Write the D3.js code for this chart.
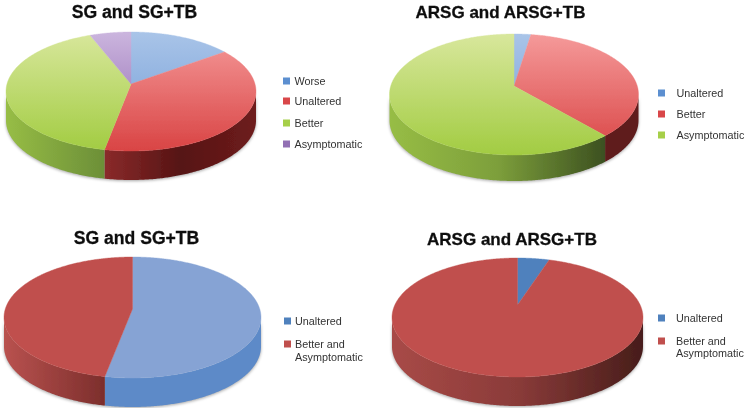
<html>
<head>
<meta charset="utf-8">

<!-- Load d3.js -->
<script src="https://d3js.org/d3.v7.min.js"></script>

<style>
  body { margin: 0; background: #fff; }
  text { font-family: "Liberation Sans", sans-serif; }
</style>
</head>

<body>
  <div id="d3_visualisation"></div>
</body>

<script>

// Data (percent of each pie, clockwise from 12 o'clock)
var titleSG = "SG and SG+TB";
var titleARSG = "ARSG and ARSG+TB";

var labels1 = ["Worse", "Unaltered", "Better", "Asymptomatic"];
var values1 = [15, 38, 41, 6];

var labels2 = ["Unaltered", "Better", "Asymptomatic"];
var values2 = [2.5, 36, 61.5];

var labels3 = ["Unaltered", "Better and\nAsymptomatic"];
var values3 = [53, 47];

var labels4 = ["Unaltered", "Better and\nAsymptomatic"];
var values4 = [5, 95];

// Colours
var blueGlossy = {top: ["#a9c4e8", "#6f9bd6"], side: ["#5f8cc8", "#5f8cc8"], key: "#5b8fd0"};
var redGlossy = {top: ["#f59a9a", "#d94444"], side: ["#8a2a2a", "#561414", "#6e1c1c"], key: "#d9474a"};
var greenGlossy = {top: ["#d8e79c", "#a2cc42"], side: ["#97bd45", "#6c8f38"], key: "#a6cf4a"};
var greenGlossyDark = {top: ["#d8e79c", "#a2cc42"], side: ["#97bd45", "#7d9f3b", "#3c5020"], key: "#a6cf4a"};
var purpleGlossy = {top: ["#cbb5de", "#8c62ad"], side: ["#7c5a96", "#7c5a96"], key: "#9270b4"};
var redDarkSide = {top: ["#f59a9a", "#d94444"], side: ["#5e1a1a", "#5e1a1a"], key: "#d9474a"};
var blueFlat = {top: ["#86a3d4", "#86a3d4"], side: ["#5d8ac8", "#5d8ac8"], key: "#4f81bd"};
var redFlat = {top: ["#c0504d", "#c0504d"], side: ["#b9524f", "#7c2e2c"], key: "#c0504d"};
var blueFlat4 = {top: ["#4f81bd", "#4f81bd"], side: ["#4f81bd", "#4f81bd"], key: "#4f81bd"};
var redFlat4 = {top: ["#c0504d", "#c0504d"], side: ["#a84a47", "#8a3b39", "#471d1a"], key: "#c0504d"};

var width = 750;
var height = 408;

var svg = d3.select("#d3_visualisation")
  .append("svg")
    .attr("width", width)
    .attr("height", height)
    .style("display", "block");

var defs = svg.append("defs");
defs.append("filter").attr("id", "soft")
  .append("feGaussianBlur").attr("stdDeviation", 0.45);
defs.append("filter").attr("id", "softText")
  .append("feGaussianBlur").attr("stdDeviation", 0.3);

var gradId = 0;

function addGradient(stops, vertical, y0, y1) {
  var id = "grad" + (gradId++);
  var g = defs.append("linearGradient").attr("id", id);
  if (vertical) {
    g.attr("gradientUnits", "userSpaceOnUse")
      .attr("x1", 0).attr("x2", 0).attr("y1", y0).attr("y2", y1);
  }
  stops.forEach(function(c, i) {
    g.append("stop")
      .attr("offset", i / (stops.length - 1))
      .attr("stop-color", c);
  });
  return "url(#" + id + ")";
}

// Tilted pie: a circle through a perspective map, so the apex sits above the ellipse middle
function makeProjection(p) {
  var up = p.apexY - p.top;
  var down = p.bottom - p.apexY;
  var k = (up - down) / (up + down);
  var a = down * (1 + k);
  var b = p.rx * Math.sqrt(1 - k * k);
  return function(angle) {
    var u = Math.sin(angle);
    var v = -Math.cos(angle);
    return [p.cx + b * u / (1 + k * v), p.apexY + a * v / (1 + k * v)];
  };
}

function rimPoints(project, start, end) {
  var n = Math.max(2, Math.ceil((end - start) / 0.01));
  return d3.range(n + 1).map(function(i) {
    return project(start + (end - start) * i / n);
  });
}

function drawPie(p) {
  var project = makeProjection(p);
  var midY = (p.top + p.bottom) / 2;
  var line = d3.line();
  var arcs = d3.pie().sort(null)(p.values);
  var root = svg.append("g").attr("filter", "url(#soft)");

  // walls first, the top face then hides whatever is at the back
  var sides = root.append("g")
    .style("filter", "drop-shadow(0px 1px 1.5px rgba(0,0,0,0.35))");
  arcs.forEach(function(d, i) {
    var rim = rimPoints(project, d.startAngle, d.endAngle).filter(function(q) {
      return q[1] >= midY;
    });
    if (rim.length < 2) return;
    var lower = rim.slice().reverse().map(function(q) { return [q[0], q[1] + p.depth]; });
    sides.append("path")
      .attr("d", line(rim.concat(lower)) + "Z")
      .attr("fill", addGradient(p.styles[i].side, false));
  });

  var topFill = arcs.map(function(d, i) {
    return addGradient(p.styles[i].top, true, p.top, p.bottom);
  });
  root.selectAll(null)
    .data(arcs)
    .enter()
    .append("path")
      .attr("d", function(d) {
        var pts = [[p.cx, p.apexY]].concat(rimPoints(project, d.startAngle, d.endAngle));
        return line(pts) + "Z";
      })
      .attr("fill", function(d, i) { return topFill[i]; })
      .attr("stroke", function(d, i) { return topFill[i]; })
      .attr("stroke-width", 0.4);

  var labelsG = svg.append("g").attr("filter", "url(#softText)");

  // title
  labelsG.append("text")
    .attr("x", p.titleX)
    .attr("y", p.titleY)
    .attr("text-anchor", "middle")
    .attr("font-size", p.titleSize)
    .attr("font-weight", "bold")
    .attr("fill", "#111")
    .attr("stroke", "#111")
    .attr("stroke-width", 0.3)
    .text(p.title);

  // legend
  p.labels.forEach(function(label, i) {
    var y = p.legendY[i];
    labelsG.append("rect")
      .attr("x", p.keyX)
      .attr("y", y - 3.5)
      .attr("width", 7)
      .attr("height", 7)
      .attr("fill", p.styles[i].key);
    label.split("\n").forEach(function(part, j) {
      labelsG.append("text")
        .attr("x", p.textX)
        .attr("y", y + 3.8 + j * p.lineGap)
        .attr("font-size", 10.8)
        .attr("fill", "#333")
        .text(part);
    });
  });
}

drawPie({
  title: titleSG, labels: labels1, values: values1,
  styles: [blueGlossy, redGlossy, greenGlossy, purpleGlossy],
  cx: 131, rx: 125, top: 32, bottom: 151, apexY: 84, depth: 29,
  titleX: 134.5, titleY: 17.5, titleSize: 17.6,
  keyX: 283, textX: 294.5, legendY: [81, 101, 123, 144], lineGap: 12
});

drawPie({
  title: titleARSG, labels: labels2, values: values2,
  styles: [blueGlossy, redDarkSide, greenGlossyDark],
  cx: 514, rx: 124.5, top: 34, bottom: 155, apexY: 86, depth: 26,
  titleX: 500.5, titleY: 17.5, titleSize: 17,
  keyX: 658, textX: 676.5, legendY: [93, 114, 135], lineGap: 12
});

drawPie({
  title: titleSG, labels: labels3, values: values3,
  styles: [blueFlat, redFlat],
  cx: 132.5, rx: 128.5, top: 257, bottom: 378, apexY: 309, depth: 29,
  titleX: 136.5, titleY: 244, titleSize: 17.6,
  keyX: 284, textX: 295, legendY: [321, 344], lineGap: 13
});

drawPie({
  title: titleARSG, labels: labels4, values: values4,
  styles: [blueFlat4, redFlat4],
  cx: 517.5, rx: 125.5, top: 258, bottom: 377, apexY: 305, depth: 29,
  titleX: 512, titleY: 245, titleSize: 17,
  keyX: 658, textX: 676, legendY: [318, 341], lineGap: 12
});

</script>

</html>
